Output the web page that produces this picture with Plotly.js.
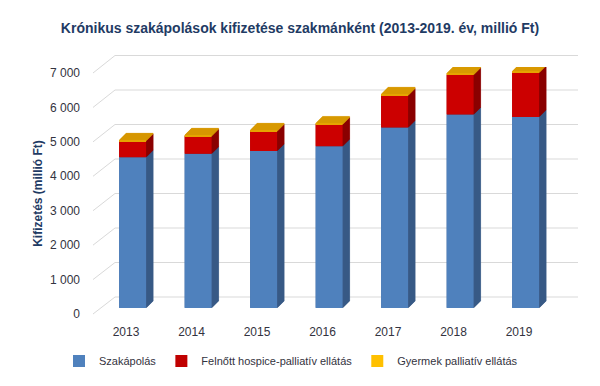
<!DOCTYPE html>
<html>
<head>
<meta charset="utf-8">
<script src="https://cdn.plot.ly/plotly-3.0.1.min.js"></script>
<style>html,body{margin:0;padding:0;background:#fff;}#chart{width:600px;height:386px;}</style>
</head>
<body>
<div id="chart"></div>
<script>
// ---- data ----
const years = ['2013', '2014', '2015', '2016', '2017', '2018', '2019'];
const szakapolas = [4380, 4480, 4560, 4700, 5240, 5620, 5550];
const felnott = [470, 510, 570, 630, 930, 1150, 1280];
const gyermek = [20, 25, 30, 30, 35, 40, 40];
const seriesNames = ['Szakápolás', 'Felnőtt hospice-palliatív ellátás', 'Gyermek palliatív ellátás'];
const yTickVals = [0, 1000, 2000, 3000, 4000, 5000, 6000, 7000];

// ---- styling / geometry ----
const W = 600, H = 386;
const frontColors = ['#4f81bd', '#cc0000', '#e6a400'];
const sideColors = ['#3a5a88', '#8a0000', '#d99a00'];
const legendColors = ['#4f81bd', '#c00000', '#ffc000'];
const catStep = 65.5, firstCenter = 132.6, labelShift = -6.6;
const barPx = 27, depthPx = 7, stepPx = 0.5;
const yMax = 7000, axisPx = 241;
const px = v => v / W;
const py = v => 1 - v / H;
const dxCat = 1 / catStep;
const dyVal = yMax / axisPx;
const wCat = barPx / catStep;

const series = [szakapolas, felnott, gyermek];
const cums = [];
let running = years.map(() => 0);
series.forEach(s => { cums.push(running.slice()); running = running.map((r, i) => r + s[i]); });

const traces = [];
traces.push({type: 'scatter', x: [], y: [], xaxis: 'x3', yaxis: 'y', showlegend: false, hoverinfo: 'skip'});
traces.push({type: 'scatter', x: years, y: years.map(() => null), xaxis: 'x5', yaxis: 'y2', showlegend: false, hoverinfo: 'skip'});

const nSteps = Math.round(depthPx / stepPx);
for (let s = nSteps; s >= 0; s--) {
  const d = s * stepPx;
  series.forEach((vals, k) => {
    const col = s === 0 ? frontColors[k] : sideColors[k];
    traces.push({
      type: 'bar',
      x: years,
      y: vals,
      base: cums[k].map(c => c + d * dyVal),
      offset: -wCat / 2 + d * dxCat,
      width: wCat,
      xaxis: 'x', yaxis: 'y2',
      name: seriesNames[k],
      marker: {color: col, line: {width: s === 0 ? 0 : 0.6, color: col}},
      showlegend: false,
      hoverinfo: s === 0 ? 'x+y+name' : 'skip'
    });
  });
}
series.forEach((vals, k) => {
  traces.push({
    type: 'bar', x: [null], y: [null], xaxis: 'x', yaxis: 'y2',
    name: seriesNames[k], marker: {color: legendColors[k]}, showlegend: true, hoverinfo: 'skip'
  });
});

// back-wall + side-wall gridlines (decoration, below all data)
const labBottom = 314, labTop = 73;
const gridBottom = 297, gridTop = 55.5;
const sideX0 = 93, wallX0 = 115, wallX1 = 578;
const shapes = yTickVals.map(v => {
  const f = v / yMax;
  const yl = H - (labBottom - f * (labBottom - labTop));
  const yg = H - (gridBottom - f * (gridBottom - gridTop));
  return {
    type: 'path', xref: 'paper', yref: 'paper', layer: 'below',
    path: 'M' + px(sideX0) + ',' + (yl / H) + ' L' + px(wallX0) + ',' + (yg / H) + ' L' + px(wallX1) + ',' + (yg / H),
    line: {color: '#d9d9d9', width: 1}
  };
});

const fam = 'Liberation Sans, Arial, sans-serif';
const tickFont = {family: fam, size: 12, color: '#333340'};

const layout = {
  width: W, height: H,
  margin: {l: 0, r: 0, t: 0, b: 0},
  paper_bgcolor: '#ffffff',
  plot_bgcolor: 'rgba(0,0,0,0)',
  separators: ', ',
  barmode: 'overlay',
  showlegend: true,
  title: {
    text: '<b>Krónikus szakápolások kifizetése szakmánként (2013-2019. év, millió Ft)</b>',
    font: {family: fam, size: 14, color: '#1f3b64'},
    x: 0.5, xanchor: 'center', y: py(28), yanchor: 'middle'
  },
  xaxis: {
    type: 'category', domain: [px(firstCenter - catStep / 2), px(firstCenter + catStep * 6.5)],
    anchor: 'y2', range: [-0.5, 6.5], showgrid: false, zeroline: false, showline: false, ticks: '',
    showticklabels: false, fixedrange: true
  },
  xaxis5: {
    type: 'category',
    domain: [px(firstCenter + labelShift - catStep / 2), px(firstCenter + labelShift + catStep * 6.5)],
    anchor: 'y2', range: [-0.5, 6.5], showgrid: false, zeroline: false, showline: false, ticks: '',
    tickfont: tickFont, ticklabelstandoff: 15, fixedrange: true
  },
  yaxis2: {
    domain: [py(308), py(308 - axisPx)], anchor: 'x', range: [0, yMax],
    visible: false, showgrid: false, zeroline: false, fixedrange: true
  },
  xaxis3: {domain: [px(81), px(590)], anchor: 'y', visible: false, range: [0, 1], fixedrange: true},
  yaxis: {
    domain: [py(labBottom), py(labTop)], anchor: 'x3', range: [0, yMax],
    tickvals: yTickVals, tickformat: ',d', showgrid: false, zeroline: false, showline: false, ticks: '',
    tickfont: tickFont, fixedrange: true,
    title: {text: '<b>Kifizetés (millió Ft)</b>', font: {family: fam, size: 12, color: '#1f3b64'}, standoff: 4}
  },
  legend: {
    orientation: 'h', x: px(59), xanchor: 'left', y: py(361), yanchor: 'middle',
    font: {family: fam, size: 11, color: '#333340'},
    bgcolor: 'rgba(0,0,0,0)', traceorder: 'normal'
  },
  shapes: shapes
};

Plotly.newPlot('chart', traces, layout, {displayModeBar: false, responsive: false});
</script>
</body>
</html>
